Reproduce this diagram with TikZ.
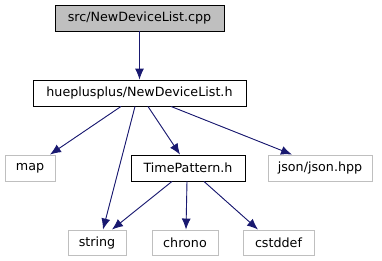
\documentclass[tikz,border=0pt]{standalone}
\usepackage{fontspec}
\setmainfont{DejaVu Sans}
\usepackage{tikz}
\usetikzlibrary{arrows.meta}

\definecolor{edgeblue}{HTML}{191970}
\definecolor{boxgray}{HTML}{BFBFBF}

\begin{document}
\begin{tikzpicture}[x=1bp, y=-1bp,
    file/.style={draw, line width=0.9bp, minimum height=26bp, inner sep=0pt,
      font=\fontsize{12.7bp}{15bp}\selectfont},
    sysfile/.style={file, draw=boxgray},
    incl/.style={-{Latex[length=11bp, width=9bp]}, draw=edgeblue, fill=edgeblue, line width=0.9bp}]
            \useasboundingbox (0,0) rectangle (382,261);
            % source file and its headers
            \node[file, fill=boxgray, minimum width=169bp] (cpp) at (139.5,18) {src/NewDeviceList.cpp};
            \node[file, minimum width=213bp] (ndl) at (139.5,93) {hueplusplus/NewDeviceList.h};
            \node[sysfile, minimum width=50bp] (map) at (30,168) {map};
            \node[file, minimum width=114bp] (tp) at (188,168) {TimePattern.h};
            \node[sysfile, minimum width=104bp] (json) at (320,168) {json/json.hpp};
            \foreach \name/\x/\w in {string/97/58, chrono/185/66, cstddef/278.5/71} {
              \node[sysfile, minimum width=\w bp, minimum height=25bp] (\name) at (\x,242.5) {\name};
            }
            \draw[incl] (cpp.south) -- (ndl.north);
            \draw[incl] ([xshift=-18.5bp]ndl.south) -- ([xshift=20bp]map.north);
            \draw[incl] ([xshift=-4.5bp]ndl.south) -- ([xshift=6bp]string.north);
            \draw[incl] ([xshift=8.5bp]ndl.south) -- ([xshift=-8bp]tp.north);
            \draw[incl] ([xshift=31.5bp]ndl.south) -- ([xshift=-28bp]json.north);
            \draw[incl] ([xshift=-16bp]tp.south) -- ([xshift=15bp]string.north);
            \draw[incl] ([xshift=-1bp]tp.south) -- ([xshift=1bp]chrono.north);
            \draw[incl] ([xshift=16bp]tp.south) -- ([xshift=-20.5bp]cstddef.north);
        \end{tikzpicture}
\end{document}
